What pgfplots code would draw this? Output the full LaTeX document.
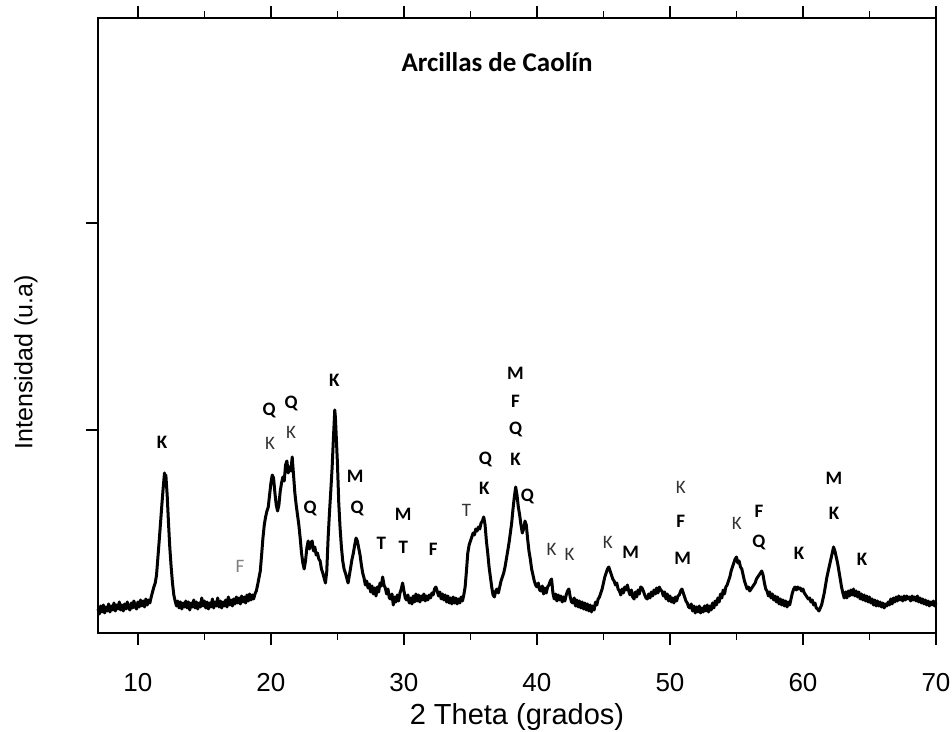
\documentclass[border=0pt]{standalone}
\usepackage{pgfplots}
\pgfplotsset{compat=1.18}
\usepackage{pgfplotstable}
\usepackage{fontspec}
\setmainfont{Liberation Sans}
\newfontfamily\carlito{Carlito}
\tikzset{
  lab/.style={font=\carlito\bfseries\fontsize{9.5}{10}\selectfont, text=black, inner sep=0pt},
  labr/.style={font=\carlito\fontsize{9.5}{10}\selectfont, text=black!80, inner sep=0pt},
}

\pgfplotstableread{
x y
7.0 24
7.1 19
7.2 27
7.3 21
7.4 28
7.5 20
7.6 26
7.7 22
7.8 29
7.9 21
8.0 27
8.1 23
8.2 30
8.3 22
8.4 28
8.5 24
8.6 31
8.7 23
8.8 28
8.9 22
9.0 29
9.1 24
9.2 31
9.3 25
9.4 23
9.5 30
9.6 25
9.7 32
9.8 26
9.9 24
10.0 31
10.1 26
10.2 33
10.3 27
10.4 32
10.5 26
10.6 34
10.7 28
10.8 33
10.9 30
11.0 36
11.1 41
11.2 46
11.3 50
11.4 58
11.5 75
11.6 92
11.7 110
11.8 128
11.9 145
12.0 160
12.05 152
12.1 158
12.2 138
12.3 110
12.4 85
12.5 66
12.6 50
12.7 38
12.8 32
12.9 27
13.0 32
13.1 25
13.2 31
13.3 24
13.4 30
13.5 26
13.6 32
13.7 25
13.8 31
13.9 23
14.0 30
14.1 26
14.2 33
14.3 25
14.4 31
14.5 24
14.6 30
14.7 26
14.8 35
14.9 27
15.0 32
15.1 25
15.2 31
15.3 24
15.4 30
15.5 26
15.6 34
15.7 25
15.8 31
15.9 27
16.0 35
16.1 26
16.2 32
16.3 25
16.4 31
16.5 27
16.6 33
16.7 26
16.8 36
16.9 28
17.0 33
17.1 27
17.2 34
17.3 29
17.4 36
17.5 30
17.6 35
17.7 29
17.8 37
17.9 31
18.0 36
18.1 30
18.2 38
18.3 32
18.4 39
18.5 33
18.6 38
18.7 34
18.8 39
18.9 42
19.0 48
19.1 55
19.2 62
19.3 78
19.4 95
19.5 108
19.6 116
19.7 122
19.8 126
19.9 138
20.0 150
20.1 158
20.2 155
20.3 140
20.4 128
20.5 122
20.6 128
20.7 142
20.8 150
20.9 156
21.0 152
21.1 168
21.2 172
21.3 160
21.4 166
21.5 162
21.6 176
21.7 158
21.8 140
21.9 128
22.0 118
22.1 108
22.2 95
22.3 80
22.4 70
22.5 64
22.6 72
22.7 85
22.8 92
22.9 84
23.0 90
23.1 92
23.2 82
23.3 86
23.4 78
23.5 80
23.6 74
23.7 72
23.8 64
23.9 60
24.0 55
24.1 50
24.2 62
24.3 95
24.4 120
24.5 142
24.6 165
24.7 195
24.8 223
24.85 215
24.9 200
25.0 170
25.1 130
25.2 105
25.3 86
25.4 72
25.5 64
25.6 60
25.7 55
25.8 50
25.9 58
26.0 66
26.1 74
26.2 80
26.3 88
26.4 95
26.5 92
26.6 85
26.7 78
26.8 68
26.9 60
27.0 55
27.1 48
27.2 52
27.3 45
27.4 49
27.5 41
27.6 47
27.7 39
27.8 45
27.9 37
28.0 46
28.1 41
28.2 50
28.3 47
28.4 56
28.5 48
28.6 45
28.7 39
28.8 44
28.9 35
29.0 34
29.1 39
29.2 28
29.3 36
29.4 31
29.5 38
29.6 32
29.7 40
29.8 44
29.9 50
30.0 42
30.1 35
30.2 33
30.3 38
30.4 30
30.5 35
30.6 29
30.7 37
30.8 31
30.9 39
31.0 32
31.1 38
31.2 31
31.3 37
31.4 33
31.5 39
31.6 32
31.7 37
31.8 33
31.9 38
32.0 35
32.1 40
32.2 38
32.3 44
32.4 46
32.5 42
32.6 37
32.7 41
32.8 34
32.9 39
33.0 33
33.1 38
33.2 31
33.3 37
33.4 30
33.5 35
33.6 29
33.7 36
33.8 30
33.9 35
34.0 29
34.1 34
34.2 30
34.3 36
34.4 32
34.5 38
34.6 46
34.7 62
34.8 80
34.9 88
35.0 92
35.1 96
35.2 100
35.3 98
35.4 104
35.5 102
35.6 106
35.7 104
35.8 110
35.9 112
36.0 116
36.1 108
36.2 92
36.3 80
36.4 66
36.5 56
36.6 46
36.7 38
36.8 36
36.9 42
37.0 44
37.1 40
37.2 46
37.3 52
37.4 56
37.5 60
37.6 66
37.7 74
37.8 82
37.9 90
38.0 100
38.1 110
38.2 124
38.3 136
38.4 146
38.5 138
38.6 126
38.7 118
38.8 108
38.9 100
39.0 104
39.1 112
39.2 108
39.3 94
39.4 82
39.5 74
39.6 64
39.7 58
39.8 52
39.9 48
40.0 46
40.1 50
40.2 43
40.3 42
40.4 47
40.5 39
40.6 45
40.7 40
40.8 46
40.9 48
41.0 52
41.1 54
41.2 40
41.3 34
41.4 39
41.5 32
41.6 38
41.7 33
41.8 37
41.9 31
42.0 36
42.1 32
42.2 38
42.3 42
42.4 44
42.5 36
42.6 31
42.7 30
42.8 35
42.9 27
43.0 33
43.1 26
43.2 32
43.3 25
43.4 31
43.5 24
43.6 30
43.7 23
43.8 29
43.9 22
44.0 28
44.1 21
44.2 27
44.3 23
44.4 31
44.5 28
44.6 34
44.7 36
44.8 40
44.9 44
45.0 50
45.1 56
45.2 60
45.3 64
45.4 66
45.5 62
45.6 58
45.7 54
45.8 52
45.9 48
46.0 50
46.1 44
46.2 42
46.3 38
46.4 44
46.5 40
46.6 46
46.7 43
46.8 48
46.9 42
47.0 38
47.1 43
47.2 36
47.3 34
47.4 41
47.5 36
47.6 43
47.7 39
47.8 46
47.9 45
48.0 42
48.1 38
48.2 35
48.3 34
48.4 39
48.5 35
48.6 41
48.7 37
48.8 43
48.9 39
49.0 45
49.1 40
49.2 46
49.3 43
49.4 42
49.5 37
49.6 41
49.7 34
49.8 39
49.9 32
50.0 37
50.1 31
50.2 35
50.3 30
50.4 36
50.5 32
50.6 37
50.7 38
50.8 42
50.9 44
51.0 40
51.1 36
51.2 32
51.3 30
51.4 26
51.5 25
51.6 29
51.7 22
51.8 27
51.9 20
52.0 26
52.1 21
52.2 27
52.3 20
52.4 25
52.5 21
52.6 27
52.7 22
52.8 28
52.9 21
53.0 27
53.1 23
53.2 30
53.3 25
53.4 32
53.5 28
53.6 35
53.7 31
53.8 39
53.9 35
54.0 43
54.1 39
54.2 46
54.3 48
54.4 52
54.5 56
54.6 62
54.7 66
54.8 70
54.9 74
55.0 76
55.1 70
55.2 72
55.3 66
55.4 64
55.5 58
55.6 52
55.7 48
55.8 44
55.9 46
56.0 42
56.1 44
56.2 46
56.3 48
56.4 50
56.5 54
56.6 56
56.7 58
56.8 60
56.9 62
57.0 58
57.1 50
57.2 44
57.3 42
57.4 37
57.5 41
57.6 35
57.7 39
57.8 33
57.9 37
58.0 31
58.1 36
58.2 29
58.3 34
58.4 28
58.5 33
58.6 27
58.7 32
58.8 26
58.9 31
59.0 28
59.1 34
59.2 40
59.3 44
59.4 46
59.5 43
59.6 46
59.7 44
59.8 45
59.9 42
60.0 44
60.1 40
60.2 38
60.3 36
60.4 34
60.5 35
60.6 31
60.7 33
60.8 28
60.9 30
61.0 25
61.1 24
61.2 22
61.3 25
61.4 28
61.5 34
61.6 40
61.7 48
61.8 56
61.9 62
62.0 68
62.1 74
62.2 80
62.3 86
62.4 82
62.5 76
62.6 70
62.7 62
62.8 54
62.9 46
63.0 40
63.1 35
63.2 41
63.3 35
63.4 42
63.5 37
63.6 43
63.7 38
63.8 44
63.9 37
64.0 42
64.1 36
64.2 41
64.3 34
64.4 39
64.5 33
64.6 38
64.7 32
64.8 37
64.9 31
65.0 36
65.1 30
65.2 34
65.3 28
65.4 33
65.5 27
65.6 32
65.7 27
65.8 31
65.9 26
66.0 30
66.1 25
66.2 29
66.3 27
66.4 31
66.5 28
66.6 34
66.7 29
66.8 35
66.9 31
67.0 36
67.1 32
67.2 37
67.3 33
67.4 36
67.5 32
67.6 37
67.7 33
67.8 37
67.9 34
68.0 36
68.1 32
68.2 37
68.3 33
68.4 36
68.5 32
68.6 37
68.7 31
68.8 35
68.9 30
69.0 34
69.1 29
69.2 33
69.3 28
69.4 32
69.5 27
69.6 31
69.7 28
69.8 32
69.9 27
70.0 30
}\xrd

\begin{document}
\begin{tikzpicture}
\useasboundingbox (-49pt,-49.5pt) rectangle (427pt,316.5pt);
\begin{axis}[
  scale only axis,
  width=419pt, height=307.5pt,
  at={(0,0)}, anchor=south west,
  xmin=7, xmax=70, ymin=0, ymax=615,
  xtick={10,20,...,70},
  minor xtick={15,25,...,65},
  ytick={203,410},
  yticklabels={},
  xtick pos=both, xticklabel pos=bottom,
  ytick pos=left,
  tick align=outside,
  major tick length=6pt,
  minor tick length=3.5pt,
  every tick/.style={black, line width=0.8pt},
  axis line style={line width=1.2pt},
  line width=1.2pt,
  /pgf/number format/assume math mode=true,
  ticklabel style={font=\fontsize{13}{15}\selectfont},
  xticklabel style={anchor=base, yshift=-23.5pt},
  xlabel={2 Theta (grados)},
  ylabel={Intensidad (u.a)},
  xlabel style={font=\fontsize{14.5}{16}\selectfont, at={(axis description cs:0.5,-0.148)}, anchor=base},
  ylabel style={font=\fontsize{12.5}{14}\selectfont, at={(axis description cs:-0.086,0.44)}, anchor=center},
  clip=false,
]
\addplot[black, line width=1.5pt, line join=round] table[x=x, y=y] {\xrd};

\node[font=\carlito\bfseries\fontsize{13.5}{15}\selectfont, anchor=base, inner sep=0pt] at (axis cs:37.0,561) {Arcillas de Caolín};

\node[lab] at (axis cs:11.81,191) {K};
\node[labr, text=black!50] at (axis cs:17.68,67) {F};
\node[lab] at (axis cs:19.86,223) {Q};
\node[labr] at (axis cs:19.94,190) {K};
\node[lab] at (axis cs:21.52,230) {Q};
\node[labr] at (axis cs:21.52,201) {K};
\node[lab] at (axis cs:22.95,125) {Q};
\node[lab] at (axis cs:24.76,253) {K};
\node[lab] at (axis cs:26.34,157) {M};
\node[lab] at (axis cs:26.49,125) {Q};
\node[lab] at (axis cs:28.30,90) {T};
\node[lab] at (axis cs:29.95,119) {M};
\node[lab] at (axis cs:29.95,86) {T};
\node[lab] at (axis cs:32.21,84) {F};
\node[labr] at (axis cs:34.70,123) {T};
\node[lab] at (axis cs:36.13,174) {Q};
\node[lab] at (axis cs:36.05,145) {K};
\node[lab] at (axis cs:38.39,260) {M};
\node[lab] at (axis cs:38.39,232) {F};
\node[lab] at (axis cs:38.39,204) {Q};
\node[lab] at (axis cs:38.39,174) {K};
\node[lab] at (axis cs:39.29,137) {Q};
\node[labr] at (axis cs:41.10,84) {K};
\node[labr] at (axis cs:42.45,79) {K};
\node[labr] at (axis cs:45.32,91) {K};
\node[lab] at (axis cs:47.05,81) {M};
\node[labr] at (axis cs:50.81,146) {K};
\node[lab] at (axis cs:50.81,112) {F};
\node[lab] at (axis cs:50.95,75) {M};
\node[labr] at (axis cs:55.03,110) {K};
\node[lab] at (axis cs:56.69,122) {F};
\node[lab] at (axis cs:56.69,91) {Q};
\node[lab] at (axis cs:59.70,80) {K};
\node[lab] at (axis cs:62.33,155) {M};
\node[lab] at (axis cs:62.33,120) {K};
\node[lab] at (axis cs:64.44,74) {K};
\end{axis}
\end{tikzpicture}
\end{document}
